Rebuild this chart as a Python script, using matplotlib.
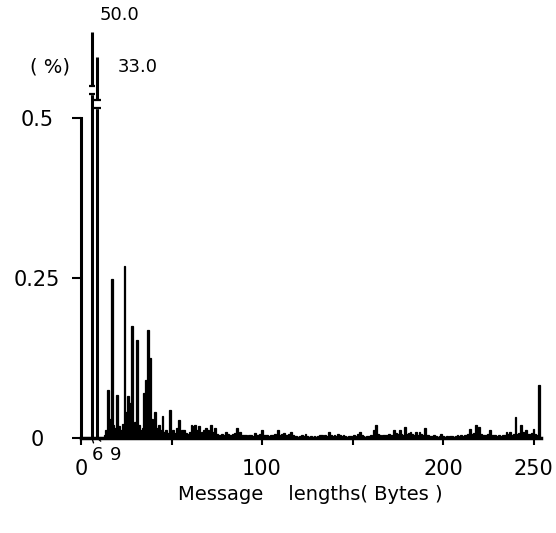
import numpy as np
import matplotlib
matplotlib.use("Agg")
import matplotlib.pyplot as plt

plt.rcParams['font.family'] = ['DejaVu Sans']

# message length (bytes) -> share of messages (%)
big_lengths = [6, 9]
big_values = [50.0, 33.0]

lengths = np.arange(10, 254)
values = [
    0, 0, 0, 0.004, 0.012, 0.075, 0.03, 0.248, 0.02, 0.015,                      # 10-19
    0.067, 0.018, 0.012, 0.022, 0.268, 0.04, 0.065, 0.055, 0.175, 0.02,           # 20-29
    0.025, 0.153, 0.02, 0.012, 0.015, 0.07, 0.09, 0.169, 0.125, 0.03,             # 30-39
    0.02, 0.041, 0.015, 0.02, 0.012, 0.035, 0.01, 0.012, 0.008, 0.043,            # 40-49
    0.01, 0.012, 0.008, 0.015, 0.028, 0.01, 0.013, 0.012, 0.008, 0.006,           # 50-59
    0.01, 0.02, 0.018, 0.02, 0.012, 0.018, 0.008, 0.01, 0.012, 0.016,             # 60-69
    0.012, 0.008, 0.021, 0.01, 0.016, 0.006, 0.005, 0.004, 0.006, 0.004,          # 70-79
    0.01, 0.006, 0.005, 0.004, 0.006, 0.008, 0.016, 0.006, 0.01, 0.005,           # 80-89
    0.004, 0.004, 0.003, 0.005, 0.004, 0.003, 0.008, 0.005, 0.004, 0.006,         # 90-99
    0.012, 0.005, 0.004, 0.005, 0.003, 0.004, 0.005, 0.006, 0.004, 0.013,         # 100-109
    0.005, 0.006, 0.008, 0.004, 0.005, 0.006, 0.01, 0.004, 0.003, 0.003,          # 110-119
    0.002, 0.003, 0.004, 0.003, 0.006, 0.003, 0.002, 0.003, 0.002, 0.003,         # 120-129
    0.002, 0.003, 0.005, 0.004, 0.003, 0.004, 0.003, 0.009, 0.004, 0.003,         # 130-139
    0.004, 0.003, 0.007, 0.004, 0.003, 0.004, 0.003, 0.002, 0.003, 0.003,         # 140-149
    0.002, 0.004, 0.003, 0.006, 0.01, 0.005, 0.003, 0.002, 0.003, 0.003,          # 150-159
    0.004, 0.003, 0.012, 0.021, 0.006, 0.004, 0.003, 0.005, 0.004, 0.005,         # 160-169
    0.006, 0.004, 0.005, 0.013, 0.008, 0.006, 0.013, 0.007, 0.005, 0.017,         # 170-179
    0.006, 0.008, 0.01, 0.006, 0.005, 0.009, 0.005, 0.01, 0.006, 0.004,           # 180-189
    0.016, 0.005, 0.004, 0.003, 0.003, 0.004, 0.003, 0.002, 0.003, 0.007,         # 190-199
    0.003, 0.002, 0.003, 0.002, 0.003, 0.003, 0.002, 0.003, 0.004, 0.003,         # 200-209
    0.004, 0.003, 0.005, 0.004, 0.006, 0.0145, 0.006, 0.008, 0.02, 0.01,          # 210-219
    0.017, 0.006, 0.005, 0.004, 0.005, 0.006, 0.013, 0.005, 0.004, 0.004,         # 220-229
    0.003, 0.004, 0.003, 0.004, 0.005, 0.009, 0.006, 0.009, 0.005, 0.007,         # 230-239
    0.033, 0.007, 0.008, 0.021, 0.009, 0.006, 0.013, 0.007, 0.006, 0.008,         # 240-249
    0.0145, 0.007, 0.004, 0.083,                                                  # 250-253
]

# heights the broken bars are drawn at, and where the break sits
big_shown = [0.634, 0.595]
big_break = [0.544, 0.522]

fig = plt.figure(figsize=(5.56, 5.33), dpi=100)
ax = fig.add_axes([0.1457, 0.1782, 0.8335, 0.7805])

ax.bar(lengths, values, width=1.0, color='black', edgecolor='black', linewidth=0.9)

# the two off-scale bars, drawn broken
for x, top, brk, v in zip(big_lengths, big_shown, big_break, big_values):
    ax.vlines(x, 0, top, color='black', lw=2.2)
    ax.fill_between([x - 1.2, x + 1.2], brk - 0.006, brk + 0.006, color='white', zorder=3)
    ax.hlines([brk - 0.006, brk + 0.006], x - 1.8, x + 1.8, color='black', lw=1.6, zorder=4)
ax.text(big_lengths[0] + 4.5, 0.661, '%.1f' % big_values[0], fontsize=13, va='center', ha='left', clip_on=False)
ax.text(big_lengths[1] + 11, 0.58, '%.1f' % big_values[1], fontsize=13, va='center', ha='left', clip_on=False)

ax.set_xlim(0, 256)
ax.set_ylim(0, 0.65)

for s in ['top', 'right']:
    ax.spines[s].set_visible(False)
ax.spines['left'].set_bounds(0, 0.5)
ax.spines['bottom'].set_bounds(0, 254)
ax.spines['left'].set_linewidth(2.2)
ax.spines['bottom'].set_linewidth(2.5)

ax.set_yticks([0, 0.25, 0.5])
ax.set_yticklabels(['0', '0.25', '0.5'])
ax.tick_params(axis='y', length=6.5, width=1.5, pad=25, labelsize=15)
for lab in ax.get_yticklabels():
    lab.set_ha('center')

ax.set_xticks([0, 50, 100, 150, 200, 250])
ax.set_xticklabels(['0', '', '100', '', '200', '250'])
ax.tick_params(axis='x', length=5, width=1.5, pad=10, labelsize=15)

# small labels for 6 and 9 with leader strokes
ax.annotate('6', xy=(6, 0), xytext=(4, -12), textcoords='offset points', fontsize=13,
            ha='center', va='center', arrowprops=dict(arrowstyle='-', lw=1.0, shrinkA=6, shrinkB=1))
ax.annotate('9', xy=(9, 0), xytext=(13, -12), textcoords='offset points', fontsize=13,
            ha='center', va='center', arrowprops=dict(arrowstyle='-', lw=1.0, shrinkA=6, shrinkB=1))

ax.text(-17, 0.58, '( %)', fontsize=14, ha='center', va='center', clip_on=False)
fig.text(310 / 556, 1 - 495 / 533, 'Message    lengths( Bytes )', fontsize=14,
         ha='center', va='center')

fig.savefig('out.png', dpi=100)
